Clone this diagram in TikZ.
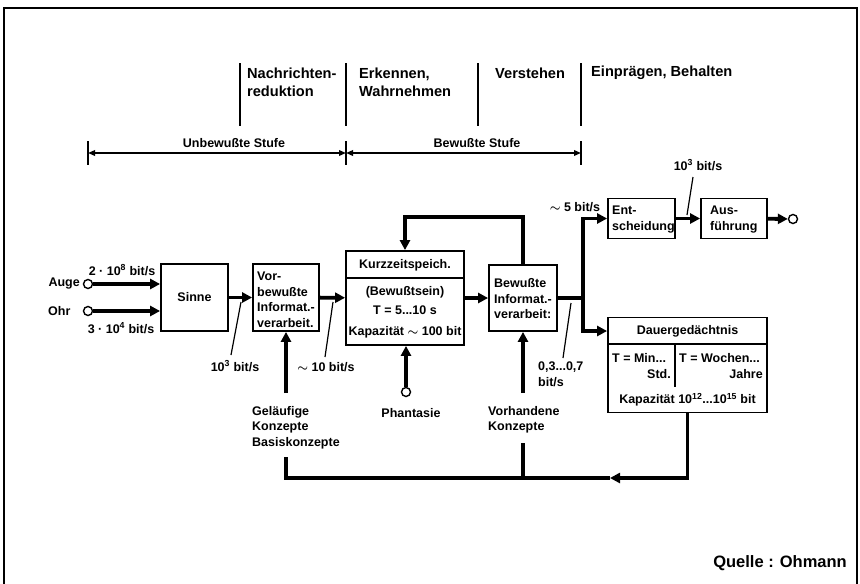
\documentclass[tikz,border=0pt]{standalone}
\usepackage{fontspec}
\setmainfont{Liberation Sans}
\usetikzlibrary{arrows.meta}
\newcommand{\btil}{{\boldmath$\sim$}}
\begin{document}
\begin{tikzpicture}[x=1pt,y=-1pt,
  every node/.style={font=\bfseries\fontsize{12.5}{15.5}\selectfont, inner sep=0pt, align=left},
  box/.style={draw, line width=1.8pt, inner sep=0pt},
  flow/.style={line width=3.8pt, -{Triangle[length=10pt,width=10pt]}},
  fline/.style={line width=3.8pt},
  lead/.style={line width=1.2pt},
  divl/.style={line width=1.3pt},
  inl/.style={line width=1.5pt},
  rng/.style={line width=2pt, {Triangle[length=7pt,width=5.5pt]}-{Triangle[length=7pt,width=5.5pt]}},
  port/.style={circle, draw, line width=1.4pt, fill=white, minimum size=9pt, inner sep=0pt},
  head/.style={font=\bfseries\fontsize{14.6}{18}\selectfont},
  src/.style={font=\bfseries\fontsize{16.5}{20}\selectfont},
]
\useasboundingbox (0,0) rectangle (860,584);
% frame
\draw[line width=1.5pt] (4,600) -- (4,8) -- (857,8) -- (857,600);

% headings
\node[head, anchor=west] (h1) at (247,82) {Nachrichten-\\reduktion};
\node[head, anchor=west] (h2) at (359,82) {Erkennen,\\Wahrnehmen};
\node[head, anchor=west] (h3) at (495,73) {Verstehen};
\node[head, anchor=west] (h4) at (591,73) {Einprägen, Behalten};
\foreach \x in {240,346,478,581} \draw[divl] (\x,63) -- (\x,126);
\foreach \x in {88,346,581} \draw[divl] (\x,141) -- (\x,165);
\coordinate (r1) at (88,153);
\coordinate (r2) at (346,153);
\coordinate (r3) at (581,153);
\draw[rng] (r1) -- (r2);
\draw[rng] (r2) -- (r3);
\node (ust) at (234,143) {Unbewußte Stufe};
\node (bst) at (477,143) {Bewußte Stufe};

% boxes
\node[box, minimum width=67pt, minimum height=67pt] (sinne) at (194.5,297.5) {Sinne};
\node[box, minimum width=66pt, minimum height=67pt] (vorb) at (286,297.5) {};
\node[anchor=west] (vorbt) at (257,300) {Vor-\\bewußte\\Informat.-\\verarbeit.};
\node[box, minimum width=118pt, minimum height=94pt] (kurz) at (405,298) {};
\coordinate (kh) at (0,278);
\draw[inl] (kurz.west |- kh) -- (kurz.east |- kh);
\node (k1) at (405,265) {Kurzzeitspeich.};
\node (k2) at (405,292) {(Bewußtsein)};
\node (k3) at (405,310) {T = 5...10 s};
\node (k4) at (405,332) {Kapazität \btil\ 100 bit};
\node[box, minimum width=68pt, minimum height=66pt] (bewu) at (523,298) {};
\node[anchor=west] (bewut) at (494,299) {Bewußte\\Informat.-\\verarbeit:};
\node[box, minimum width=67pt, minimum height=40pt] (ent) at (641.5,218.5) {};
\node[anchor=west] (entt) at (612,219.5) {Ent-\\scheidung};
\node[box, minimum width=66pt, minimum height=40pt] (aus) at (734,218.5) {};
\node[anchor=west] (aust) at (710,219.5) {Aus-\\führung};
\node[box, minimum width=159pt, minimum height=95pt] (dauer) at (687.5,365) {};
\coordinate (dh) at (0,344);
\draw[inl] (dauer.west |- dh) -- (dauer.east |- dh);
\coordinate (dv1) at (675,344);
\coordinate (dv2) at (675,387);
\draw[inl] (dv1) -- (dv2);
\node (dtitle) at (687.5,331) {Dauergedächtnis};
\node[anchor=west] (d1) at (612,358) {T = Min...};
\node[anchor=east] (d2) at (671,374) {Std.};
\node[anchor=west] (d3) at (679,358) {T = Wochen...};
\node[anchor=east] (d4) at (763,374) {Jahre};
\node (d5) at (687.5,400) {Kapazität 10\textsuperscript{12}...10\textsuperscript{15} bit};

% ports
\node[port] (cauge) at (88,284) {};
\node[port] (cohr) at (88,311) {};
\node[port] (cphan) at (406,392) {};
\node[port] (cout) at (793,219) {};
\node[anchor=east] (lauge) at (80,284) {Auge};
\node[anchor=west] (lohr) at (48,311) {Ohr};
\node (r8) at (122,270) {2 · 10\textsuperscript{8} bit/s};
\node (r4) at (121,328) {3 · 10\textsuperscript{4} bit/s};

% flows
\draw[flow] (cauge) -- (cauge -| sinne.west);
\draw[flow] (cohr) -- (cohr -| sinne.west);
\draw[flow] (sinne) -- (vorb);
\draw[flow] (vorb) -- (kurz);
\draw[flow] (kurz) -- (bewu);
\draw[flow] (bewu.north) -- ++(0,-47) -| (kurz.north);
\coordinate (split) at (583,298);
\draw[fline] (bewu.east) -- (split);
\draw[flow] (split) |- (ent.west);
\draw[flow] (split) |- (dauer.west |- dtitle);
\draw[flow] (ent) -- (aus);
\draw[flow] (aus) -- (cout);
\coordinate (gk) at (286,393);
\draw[flow] (gk) -- (gk |- vorb.south);
\coordinate (vk) at (523,393);
\draw[flow] (vk) -- (vk |- bewu.south);
\draw[flow] (cphan) -- (cphan |- kurz.south);

% bottom feedback
\coordinate (arrc) at (610,478);
\coordinate (b1) at (286,457);
\coordinate (b2) at (523,443);
\draw[flow] (dauer.south) |- (arrc);
\draw[fline] (arrc) -| (b1);
\draw[fline] (b2) -- (b2 |- arrc);

% rate labels
\node (q1) at (235,366) {10\textsuperscript{3} bit/s};
\coordinate (q1a) at (241,302);
\coordinate (q1b) at (231,355);
\draw[lead] (q1a) -- (q1b);
\node (q2) at (326,367) {\btil\ 10 bit/s};
\coordinate (q2a) at (333,302);
\coordinate (q2b) at (325,357);
\draw[lead] (q2a) -- (q2b);
\node (q3) at (575,207) {\btil\ 5 bit/s};
\node[anchor=west] (q4) at (538,374.5) {0,3...0,7\\bit/s};
\coordinate (q4a) at (571,303);
\coordinate (q4b) at (563,358);
\draw[lead] (q4a) -- (q4b);
\node (q5) at (698,165) {10\textsuperscript{3} bit/s};
\coordinate (q5a) at (693,177);
\coordinate (q5b) at (687,215);
\draw[lead] (q5a) -- (q5b);

% bottom labels
\node[anchor=north west] (gel) at (252,406) {Geläufige\\Konzepte\\Basiskonzepte};
\node (phan) at (411,413) {Phantasie};
\node[anchor=north west] (vorh) at (488,406) {Vorhandene\\Konzepte};
\node[src, anchor=east] (quelle) at (847,563) {Quelle : Ohmann};
\end{tikzpicture}
\end{document}
